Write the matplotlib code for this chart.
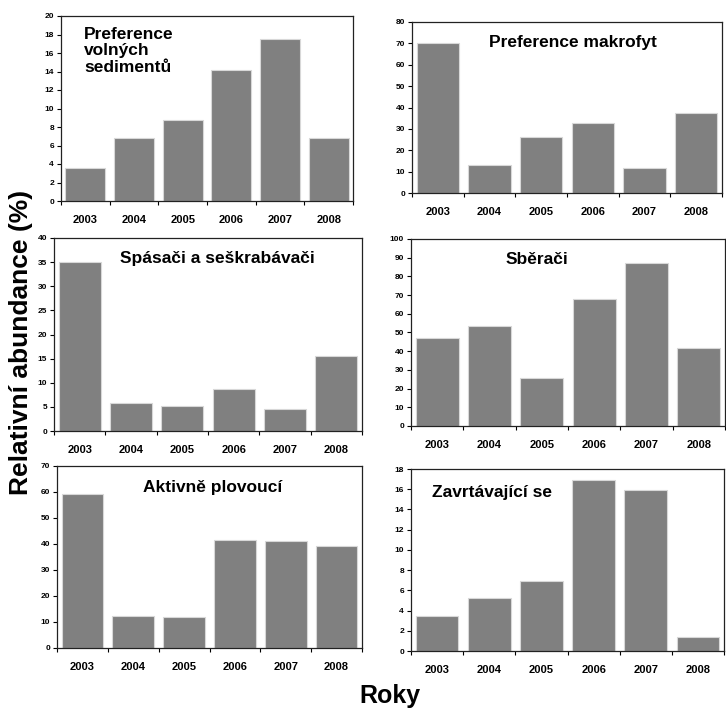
import numpy as np
import matplotlib
matplotlib.use("Agg")
from matplotlib import pyplot as plt

plt.rcParams['font.family'] = ['Liberation Sans', 'DejaVu Sans']
plt.rcParams['font.weight'] = 'bold'

years = ['2003', '2004', '2005', '2006', '2007', '2008']

sedimenty = [3.6, 6.85, 8.75, 14.2, 17.55, 6.85]
makrofyta = [70.0, 13.1, 26.3, 32.8, 11.9, 37.6]
spasaci = [35.0, 5.9, 5.1, 8.8, 4.5, 15.6]
sberaci = [47.0, 53.5, 25.7, 68.0, 87.0, 41.8]
plovouci = [59.1, 12.3, 11.8, 41.5, 41.1, 39.4]
zavrtavajici = [3.45, 5.25, 6.95, 16.9, 15.95, 1.4]

W, H = 726, 709

# (data, nadpis, ymax, krok, [left, top, right, bottom] v px, pozice nadpisu, zarovnani)
panely = [
    (sedimenty, 'Preference\nvolných\nsedimentů', 20, 2, [61, 16, 353, 201], (0.08, 0.94), 'left', 'top'),
    (makrofyta, 'Preference makrofyt', 80, 10, [412, 22, 722, 193], (0.52, 0.88), 'center', 'center'),
    (spasaci, 'Spásači a seškrabávači', 40, 5, [54, 238, 362, 431], (0.53, 0.895), 'center', 'center'),
    (sberaci, 'Sběrači', 100, 10, [411, 239, 725, 426], (0.40, 0.89), 'center', 'center'),
    (plovouci, 'Aktivně plovoucí', 70, 10, [57, 466, 362, 648], (0.51, 0.88), 'center', 'center'),
    (zavrtavajici, 'Zavrtávající se', 18, 2, [411, 469, 724, 651], (0.26, 0.87), 'center', 'center'),
]

fig = plt.figure(figsize=(W / 100, H / 100), dpi=100)

for data, nadpis, ymax, krok, box, tpos, ha, va in panely:
    l, t, r, b = box
    ax = fig.add_axes([l / W, 1 - b / H, (r - l) / W, (b - t) / H])
    x = np.arange(len(years))
    ax.bar(x, data, width=0.82, color='#808080', edgecolor='#d8d8d8', linewidth=0.8)
    ax.set_xlim(-0.5, len(years) - 0.5)
    ax.set_ylim(0, ymax)
    ax.set_yticks(np.arange(0, ymax + 0.1, krok))
    ax.tick_params(axis='y', labelsize=6, length=3, width=0.8, pad=2)
    ax.set_xticks(x)
    ax.set_xticklabels(years)
    ax.tick_params(axis='x', labelsize=8, length=0, pad=10)
    ax.set_xticks(np.arange(-0.5, len(years)), minor=True)
    ax.tick_params(axis='x', which='minor', length=3, width=0.8)
    for s in ax.spines.values():
        s.set_linewidth(0.9)
        s.set_color('#222222')
    ax.text(tpos[0], tpos[1], nadpis, transform=ax.transAxes, ha=ha, va=va,
            fontsize=12.5, fontweight='bold', linespacing=1.1)

fig.text(21 / W, 1 - 342 / H, 'Relativní abundance (%)', rotation=90, ha='center', va='center',
         fontsize=19, fontweight='bold')
fig.text(390 / W, 1 - 696 / H, 'Roky', ha='center', va='center', fontsize=18, fontweight='bold')

fig.savefig('out.png', dpi=100)
